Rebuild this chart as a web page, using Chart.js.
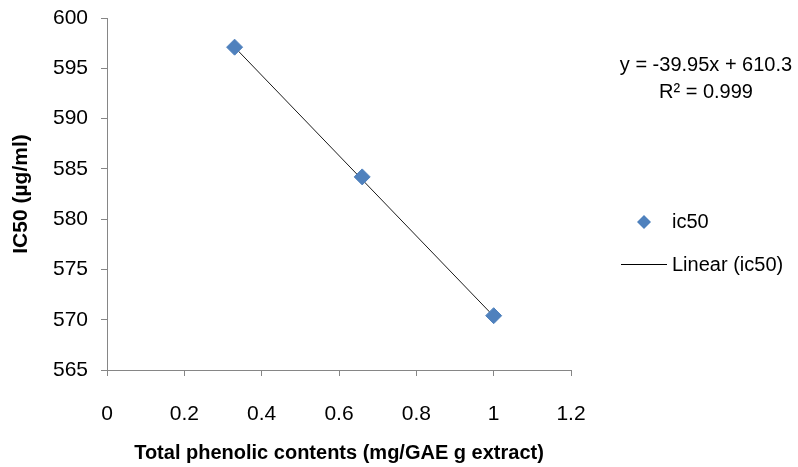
<!DOCTYPE html>
<html>
<head>
<meta charset="utf-8">
<script src="https://cdn.jsdelivr.net/npm/chart.js@4"></script>
<style>
  body { margin: 0; background: #fff; }
  #wrap { width: 798px; height: 467px; }
</style>
</head>
<body>
<div id="wrap"><canvas id="chart"></canvas></div>
<script>
// data
var phenolic = [0.33, 0.66, 1.0];
var ic50 = [597.1, 584.2, 570.4];
var trendX = [0.33, 1.0];
var trendY = [597.1, 570.35];
var equationText = ['y = -39.95x + 610.3', 'R\u00b2 = 0.999'];
var FONT = "'Liberation Sans', Arial, sans-serif";

// legend + equation drawn on the right, like excel does
var sideText = {
    id: 'sideText',
    afterDraw: function (chart) {
        var ctx = chart.ctx;
        ctx.save();
        ctx.fillStyle = '#000';
        ctx.font = '20px ' + FONT;
        ctx.textAlign = 'center';
        ctx.textBaseline = 'middle';
        ctx.fillText(equationText[0], 706, 65);
        ctx.fillText(equationText[1], 706, 92);

        // legend
        ctx.textAlign = 'left';
        ctx.fillStyle = '#4F81BD';
        ctx.beginPath();
        ctx.moveTo(644, 215);
        ctx.lineTo(651, 222);
        ctx.lineTo(644, 229);
        ctx.lineTo(637, 222);
        ctx.closePath();
        ctx.fill();
        ctx.fillStyle = '#000';
        ctx.fillText(chart.data.datasets[0].label, 672, 222);

        ctx.strokeStyle = '#000';
        ctx.lineWidth = 1;
        ctx.beginPath();
        ctx.moveTo(621, 264.5);
        ctx.lineTo(667, 264.5);
        ctx.stroke();
        ctx.fillText(chart.data.datasets[1].label, 672, 265);
        ctx.restore();
    }
};

var pts = phenolic.map(function (x, i) { return { x: x, y: ic50[i] }; });
var trend = trendX.map(function (x, i) { return { x: x, y: trendY[i] }; });

var ctx = document.getElementById('chart').getContext('2d');
var myChart = new Chart(ctx, {
    type: 'scatter',
    data: {
        datasets: [{
            label: 'ic50',
            data: pts,
            pointStyle: 'rectRot',
            pointRadius: 8,
            backgroundColor: '#4F81BD',
            borderColor: '#4F81BD',
            order: 1
        }, {
            label: 'Linear (ic50)',
            type: 'line',
            data: trend,
            borderColor: '#1a1a1a',
            borderWidth: 1,
            pointRadius: 0,
            fill: false,
            order: 2
        }]
    },
    options: {
        responsive: true,
        maintainAspectRatio: false,
        animation: false,
        layout: { padding: { left: 5, right: 227, top: 18, bottom: 0 } },
        plugins: {
            legend: { display: false },
            tooltip: { enabled: false }
        },
        scales: {
            x: {
                type: 'linear',
                min: 0,
                max: 1.2,
                ticks: {
                    stepSize: 0.2,
                    color: '#000',
                    font: { family: FONT, size: 21 },
                    padding: 26,
                    callback: function (v) { return Math.round(v * 10) / 10; }
                },
                grid: { drawOnChartArea: false, drawTicks: true, tickLength: 6, color: '#868686' },
                border: { color: '#868686' },
                title: {
                    display: true,
                    text: 'Total phenolic contents (mg/GAE g extract)',
                    color: '#000',
                    font: { family: FONT, size: 20, weight: 'bold' },
                    padding: { top: 0, bottom: 2 }
                },
                afterFit: function (s) { s.height = 97; s.paddingLeft = 0; s.paddingRight = 0; }
            },
            y: {
                min: 565,
                max: 600,
                ticks: {
                    stepSize: 5,
                    color: '#000',
                    font: { family: FONT, size: 21 },
                    padding: 13
                },
                grid: { drawOnChartArea: false, drawTicks: true, tickLength: 6, color: '#868686' },
                border: { color: '#868686' },
                title: {
                    display: true,
                    text: 'IC50 (\u00b5g/ml)',
                    color: '#000',
                    font: { family: FONT, size: 21, weight: 'bold' }
                },
                afterFit: function (s) { s.width = 102; s.paddingTop = 0; s.paddingBottom = 0; }
            }
        }
    },
    plugins: [sideText]
});
</script>
</body>
</html>
